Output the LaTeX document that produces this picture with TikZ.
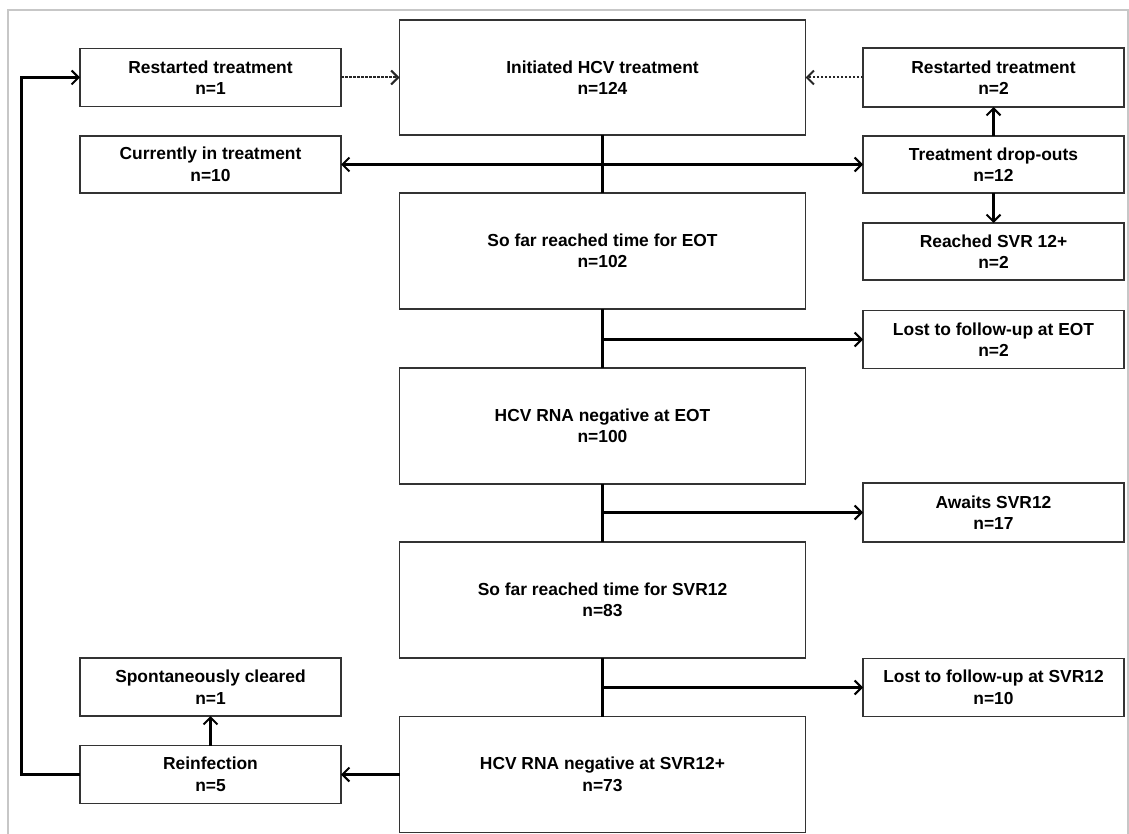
\documentclass[tikz,border=0pt]{standalone}
\usepackage{fontspec}
\setmainfont{Liberation Sans}
\usetikzlibrary{arrows.meta}
\begin{document}
\begin{tikzpicture}[x=1pt,y=-1pt,
 box/.style={draw=black!80, line width=1.3pt, rectangle, inner sep=0pt, outer sep=0pt, align=center, font=\fontsize{17.4}{21.5}\selectfont\bfseries, fill=white},
 side/.style={box, minimum width=261pt, minimum height=58pt},
 mainbox/.style={box, minimum width=406pt, minimum height=116pt},
 conn/.style={line width=2.2pt, black},
 tip/.tip={Straight Barb[length=7pt,width=14pt,line width=2pt]},
 arr/.style={conn, -tip},
 dotarr/.style={line width=2pt, black!85, dash pattern=on 2.5pt off 1.5pt, -tip}
]
\useasboundingbox (0,0) rectangle (1129,834);
\fill[white] (0,0) rectangle (1129,834);
\draw[black!22, line width=1.5pt] (8,834) -- (8,10) -- (1128,10) -- (1128,834);

\node[side] (r1) at (210.5,77.5) {Restarted treatment\\n=1};
\node[mainbox, minimum height=115pt] (init) at (602.5,77.5) {Initiated HCV treatment\\n=124};
\node[side, minimum height=59pt] (r2) at (993.5,77.5) {Restarted treatment\\n=2};
\node[side, minimum height=57pt] (cur) at (210.5,164.5) {Currently in treatment\\n=10};
\node[side, minimum height=57pt] (drop) at (993.5,164.5) {Treatment drop-outs\\n=12};
\node[mainbox] (eot) at (602.5,251) {So far reached time for EOT\\n=102};
\node[side, minimum height=57pt] (svr) at (993.5,251.5) {Reached SVR 12+\\n=2};
\node[side] (lost1) at (993.5,339.5) {Lost to follow-up at EOT\\n=2};
\node[mainbox] (neg1) at (602.5,426) {HCV RNA negative at EOT\\n=100};
\node[side, minimum height=59pt] (await) at (993.5,512.5) {Awaits SVR12\\n=17};
\node[mainbox] (svr12) at (602.5,600) {So far reached time for SVR12\\n=83};
\node[side] (lost2) at (993.5,687.5) {Lost to follow-up at SVR12\\n=10};
\node[mainbox] (neg2) at (602.5,774.5) {HCV RNA negative at SVR12+\\n=73};
\node[side] (reinf) at (210.5,774.5) {Reinfection\\n=5};
\node[side] (spont) at (210.5,687) {Spontaneously cleared\\n=1};

\draw[conn] (init.south) -- (eot.north);
\draw[conn, tip-tip] (cur.east) -- (drop.west);
\draw[conn] (eot.south) -- (neg1.north);
\draw[arr] (eot.south |- lost1.west) -- (lost1.west);
\draw[conn] (neg1.south) -- (svr12.north);
\draw[arr] (neg1.south |- await.west) -- (await.west);
\draw[conn] (svr12.south) -- (neg2.north);
\draw[arr] (svr12.south |- lost2.west) -- (lost2.west);
\draw[arr] (neg2.west) -- (reinf.east);
\draw[arr] (reinf.north) -- (spont.south);
\draw[arr] (reinf.west) -- ++(-58.5,0) |- (r1.west);
\draw[arr] (drop.north) -- (r2.south);
\draw[arr] (drop.south) -- (svr.north);
\draw[dotarr] (r1.east) -- (init.west);
\draw[dotarr] (r2.west) -- (init.east);
\end{tikzpicture}
\end{document}
